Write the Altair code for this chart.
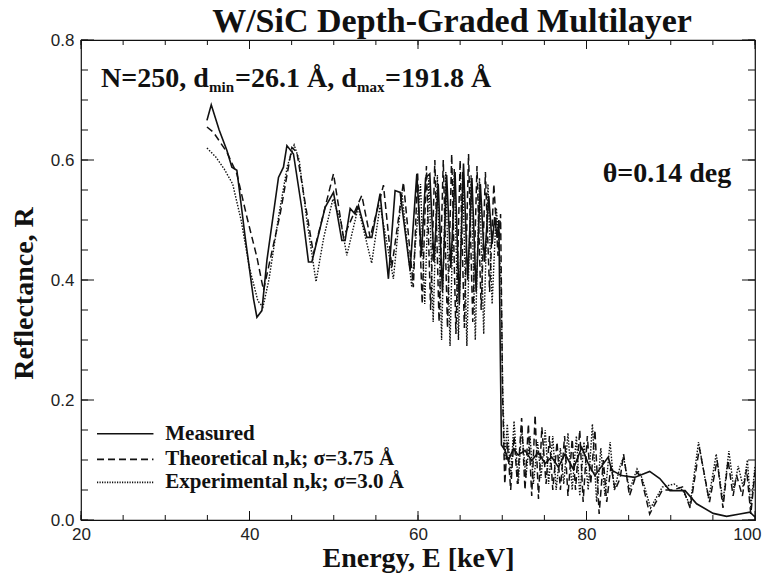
import altair as alt
import pandas as pd

# ---------------- data ----------------
meas_E = [34.95, 35.46, 36.4, 37.32, 37.91, 38.5, 39.5, 40.47, 40.88, 41.47, 42.07, 43.44, 44.03, 44.44,
          45.22, 46.2, 47.0, 47.4, 48.98, 49.97, 50.96, 51.35, 51.95, 52.54, 52.93, 53.93, 54.52, 55.5,
          56.49, 57.28, 57.88, 59.06, 59.86, 60.4, 60.9, 61.4, 61.9, 62.4, 62.9, 63.4, 63.9, 64.4, 64.9,
          65.4, 65.9, 66.4, 66.9, 67.4, 67.9, 68.4, 68.8, 69.1, 69.4, 69.6, 69.75, 69.9, 70.33, 70.72,
          71.32, 71.9, 72.7, 73.5, 74.28, 75.08, 75.87, 76.66, 77.45, 78.43, 79.43, 80.21, 81.0, 82.58,
          82.99, 84.17, 85.7, 87.5, 88.7, 89.9, 91.7, 93.07, 95.04, 96.63, 98.2, 99.4, 100.0]
meas_R = [0.666, 0.692, 0.650, 0.616, 0.588, 0.583, 0.470, 0.369, 0.338, 0.349, 0.433, 0.571, 0.588, 0.624,
          0.610, 0.520, 0.430, 0.430, 0.521, 0.546, 0.466, 0.466, 0.519, 0.510, 0.524, 0.471, 0.471, 0.544,
          0.402, 0.549, 0.546, 0.416, 0.577, 0.440, 0.570, 0.577, 0.430, 0.560, 0.380, 0.575, 0.420, 0.580,
          0.360, 0.594, 0.400, 0.570, 0.380, 0.560, 0.430, 0.540, 0.460, 0.505, 0.470, 0.500, 0.300, 0.125,
          0.116, 0.099, 0.119, 0.108, 0.116, 0.099, 0.113, 0.094, 0.105, 0.088, 0.110, 0.085, 0.121, 0.094,
          0.074, 0.105, 0.083, 0.074, 0.071, 0.081, 0.069, 0.049, 0.049, 0.027, 0.011, 0.006, 0.010, 0.013,
          0.005]

theo_E = [34.95, 35.73, 37.32, 38.5, 39.69, 40.88, 41.66, 43.64, 45.03, 45.62, 47.59, 49.97, 51.15, 53.33,
          54.32, 55.9, 56.89, 58.27, 59.45, 59.95, 60.5, 61.0, 61.5, 62.0, 62.5, 63.0, 63.5, 64.0, 64.5,
          65.0, 65.5, 66.0, 66.5, 67.0, 67.5, 68.0, 68.5, 69.0, 69.5, 69.8, 70.05, 70.3, 70.6, 71.0, 71.4,
          71.8, 72.3, 72.7, 73.1, 73.5, 73.9, 74.3, 74.7, 75.2, 75.6, 76.0, 76.5, 76.9, 77.4, 77.8, 78.3,
          78.7, 79.2, 79.6, 80.1, 80.5, 81.0, 81.5, 82.0, 82.4, 82.9, 83.4, 84.0, 84.4, 85.1, 86.0, 86.5,
          87.5, 89.0, 90.2, 91.4, 92.3, 93.4, 94.6, 95.5, 96.2, 96.8, 97.4, 97.8, 98.5, 99.0, 99.5, 100.0]
theo_R = [0.655, 0.646, 0.613, 0.577, 0.505, 0.438, 0.383, 0.510, 0.621, 0.613, 0.444, 0.577, 0.471, 0.541,
          0.471, 0.558, 0.421, 0.563, 0.388, 0.580, 0.360, 0.590, 0.350, 0.600, 0.330, 0.600, 0.320, 0.610,
          0.310, 0.600, 0.320, 0.610, 0.330, 0.590, 0.350, 0.580, 0.380, 0.560, 0.440, 0.510, 0.200, 0.060,
          0.130, 0.050, 0.140, 0.060, 0.170, 0.050, 0.160, 0.040, 0.175, 0.035, 0.155, 0.060, 0.140, 0.050,
          0.130, 0.050, 0.140, 0.040, 0.135, 0.050, 0.150, 0.030, 0.140, 0.060, 0.150, 0.010, 0.100, 0.030,
          0.090, 0.050, 0.070, 0.110, 0.040, 0.080, 0.070, 0.010, 0.050, 0.050, 0.055, 0.020, 0.120, 0.030,
          0.100, 0.020, 0.100, 0.040, 0.075, 0.040, 0.085, 0.010, 0.080]

expt_E = [34.95, 36.0, 37.0, 38.0, 39.0, 40.0, 41.0, 41.6, 42.3, 43.5, 44.5, 45.3, 45.9, 46.8, 47.9, 48.8,
          49.9, 50.8, 51.55, 52.9, 54.5, 55.5, 57.08, 58.08, 59.26, 60.3, 60.8, 61.3, 61.8, 62.3, 62.8,
          63.3, 63.8, 64.3, 64.8, 65.3, 65.8, 66.3, 66.8, 67.3, 67.8, 68.3, 68.8, 69.3, 69.6, 69.85, 70.05,
          70.3, 70.6, 71.0, 71.4, 71.9, 72.3, 72.8, 73.3, 73.7, 74.2, 74.6, 75.1, 75.5, 76.0, 76.4, 76.9,
          77.3, 77.8, 78.3, 78.8, 79.2, 79.7, 80.2, 80.7, 81.2, 81.7, 82.2, 82.8, 83.3, 84.0, 84.4, 85.1,
          86.0, 86.6, 87.6, 89.0, 90.4, 91.4, 92.3, 93.3, 94.5, 95.4, 96.2, 96.9, 97.5, 98.0, 98.6, 99.1,
          99.5, 100.0]
expt_R = [0.620, 0.605, 0.585, 0.560, 0.500, 0.420, 0.365, 0.355, 0.400, 0.510, 0.590, 0.625, 0.600, 0.500,
          0.397, 0.470, 0.535, 0.500, 0.441, 0.521, 0.428, 0.524, 0.402, 0.546, 0.388, 0.560, 0.360, 0.570,
          0.330, 0.575, 0.300, 0.580, 0.290, 0.585, 0.300, 0.580, 0.290, 0.575, 0.300, 0.570, 0.310, 0.560,
          0.360, 0.520, 0.460, 0.400, 0.220, 0.100, 0.160, 0.070, 0.165, 0.060, 0.155, 0.070, 0.140, 0.060,
          0.130, 0.070, 0.150, 0.060, 0.140, 0.050, 0.120, 0.060, 0.145, 0.050, 0.140, 0.040, 0.130, 0.050,
          0.160, 0.030, 0.120, 0.040, 0.130, 0.050, 0.090, 0.105, 0.050, 0.085, 0.070, 0.020, 0.055, 0.060,
          0.050, 0.025, 0.130, 0.035, 0.110, 0.030, 0.115, 0.050, 0.090, 0.055, 0.100, 0.020, 0.090]

series_names = ["Measured", "Theoretical n,k; σ=3.75 Å", "Experimental n,k; σ=3.0 Å"]

x_ticks_minor = list(range(20, 101, 5))
x_ticks_major = [20, 40, 60, 80, 100]
y_ticks_minor = [i * 0.05 for i in range(17)]
y_ticks_major = [0.0, 0.2, 0.4, 0.6, 0.8]

title_text = "W/SiC Depth-Graded Multilayer"
x_title = "Energy, E [keV]"
y_title = "Reflectance, R"

ann_pos = [22.37, 0.7213]          # N=250 ... annotation anchor (E, R)
theta_pos = [81.92, 0.563]         # theta annotation anchor (E, R)
theta_text = "θ=0.14 deg"
legend_line_x = [21.9, 28.6]
legend_text_x = 30.0
legend_y = [0.1437, 0.101, 0.0627]

# ---------------- chart ----------------
W, H = 674, 480
SERIF = "Liberation Serif"
INK = "#111111"
xs = alt.Scale(domain=[20, 100], nice=False, zero=False)
ys = alt.Scale(domain=[0, 0.8], nice=False, zero=False)

x_axis = alt.Axis(values=x_ticks_major, title=x_title, grid=False, ticks=False, domain=False,
                  labelFlush=False, labelFont="Liberation Sans", labelFontSize=17,
                  labelColor="#222222", labelPadding=6,
                  labelAlign={"condition": {"test": "datum.value == 100", "value": "right"},
                              "value": "center"},
                  labelOffset={"condition": {"test": "datum.value == 100", "value": 6}, "value": 0},
                  titleFont=SERIF, titleFontSize=28, titleFontWeight="bold", titleColor=INK,
                  titlePadding=2)
y_axis = alt.Axis(values=y_ticks_major, format=".1f", title=y_title, grid=False, ticks=False,
                  domain=False, labelFlush=False, labelFont="Liberation Sans", labelFontSize=17,
                  labelColor="#222222", labelPadding=7, titleFont=SERIF, titleFontSize=28,
                  titleFontWeight="bold", titleColor=INK, titlePadding=12, titleY=253)

X = alt.X("E:Q", scale=xs, axis=x_axis)
Y = alt.Y("R:Q", scale=ys, axis=y_axis)

df_m = pd.DataFrame({"E": meas_E, "R": meas_R})
df_t = pd.DataFrame({"E": theo_E, "R": theo_R})
df_e = pd.DataFrame({"E": expt_E, "R": expt_R})

measured = alt.Chart(df_m).mark_line(color=INK, strokeWidth=1.6, clip=True).encode(x=X, y=Y)
theo = alt.Chart(df_t).mark_line(color=INK, strokeWidth=1.5, strokeDash=[7, 4], clip=True).encode(x=X, y=Y)
expt = alt.Chart(df_e).mark_line(color=INK, strokeWidth=1.4, strokeDash=[1.5, 1.5], clip=True).encode(x=X, y=Y)


def xtick(vals, y0, y1):
    return alt.Chart(pd.DataFrame({"E": vals})).mark_rule(color=INK, strokeWidth=1).encode(
        x=X, y=alt.value(y0), y2=alt.value(y1))


def ytick(vals, x0, x1):
    return alt.Chart(pd.DataFrame({"R": vals})).mark_rule(color=INK, strokeWidth=1).encode(
        y=Y, x=alt.value(x0), x2=alt.value(x1))


ticks = [
    xtick(x_ticks_minor, H, H - 5), xtick(x_ticks_major, H, H - 9),
    xtick(x_ticks_minor, 0, 5), xtick(x_ticks_major, 0, 9),
    ytick(y_ticks_minor, 0, 7), ytick(y_ticks_major, 0, 13),
    ytick(y_ticks_minor, W, W - 7), ytick(y_ticks_major, W, W - 13),
]


def label(pos, txt, size, dx=0, dy=0, baseline="alphabetic"):
    d = pd.DataFrame({"E": [pos[0]], "R": [pos[1]], "t": [txt]})
    return alt.Chart(d).mark_text(font=SERIF, fontWeight="bold", fontSize=size, color=INK,
                                  align="left", baseline=baseline, dx=dx, dy=dy).encode(
        x=X, y=Y, text="t:N")


ann = [
    label(ann_pos, "N=250, d", 28),
    label(ann_pos, "min", 15, dx=108, dy=5),
    label(ann_pos, "=26.1 Å, d", 28, dx=134),
    label(ann_pos, "max", 15, dx=256, dy=5),
    label(ann_pos, "=191.8 Å", 28, dx=284),
    label(theta_pos, theta_text, 28),
]

dashes = [None, [7, 4], [1.2, 1.3]]
leg = []
for name, yy, dash in zip(series_names, legend_y, dashes):
    dl = pd.DataFrame({"E": [legend_line_x[0]], "E2": [legend_line_x[1]], "R": [yy]})
    kw = dict(color=INK, strokeWidth=1.6)
    if dash:
        kw["strokeDash"] = dash
    leg.append(alt.Chart(dl).mark_rule(**kw).encode(x=X, x2="E2:Q", y=Y))
    leg.append(label([legend_text_x, yy], name, 21, baseline="middle"))

chart = alt.layer(measured, theo, expt, *ticks, *ann, *leg).properties(
    width=W, height=H,
    title=alt.TitleParams(title_text, font=SERIF, fontSize=34, fontWeight="bold", color=INK,
                          anchor="middle", dx=34, offset=-35, baseline="alphabetic"),
    autosize=alt.AutoSizeParams(type="none"),
    padding={"left": 73, "top": 32, "right": 7, "bottom": 54},
    background="white",
).configure_view(stroke=INK, strokeWidth=1.2)

chart.save("out.html", embed_options={"renderer": "svg", "actions": False})
